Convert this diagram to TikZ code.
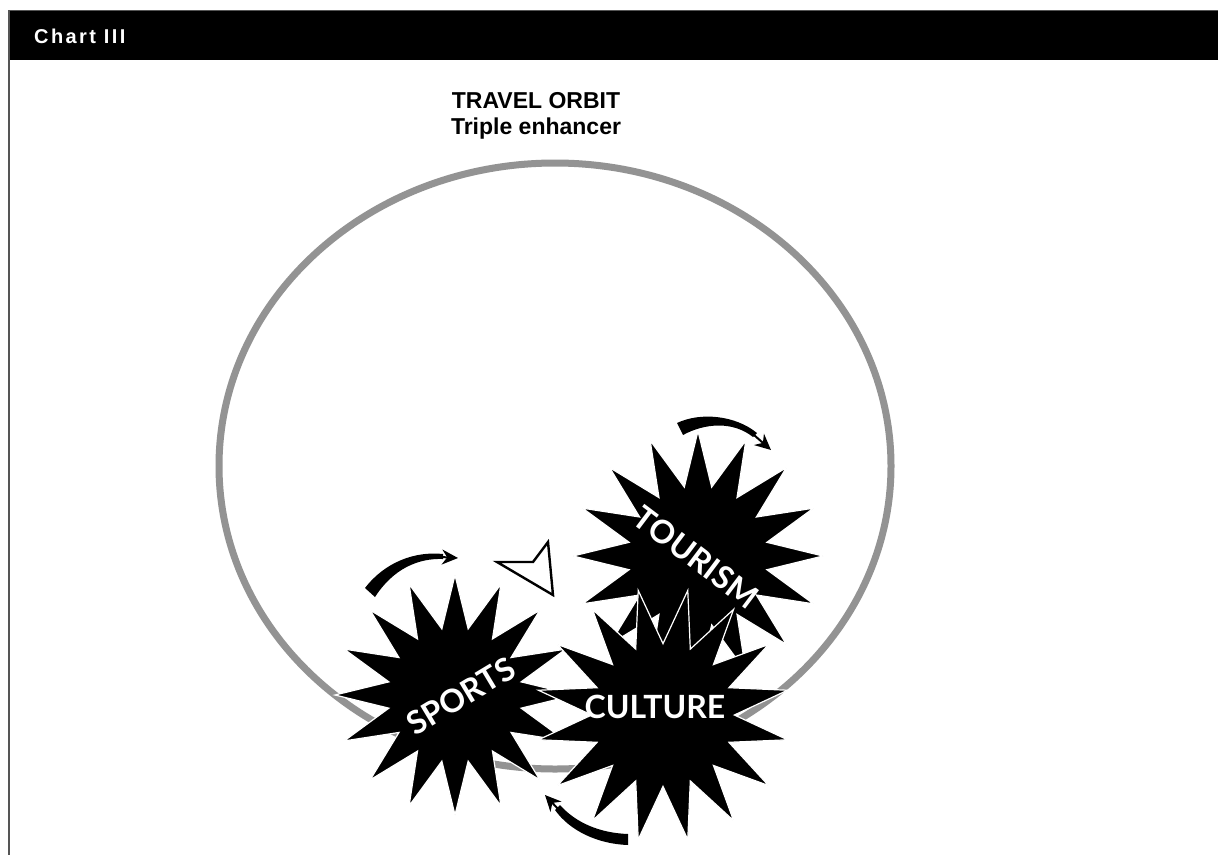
\documentclass[tikz,border=0pt]{standalone}
\usepackage{fontspec}
\setmainfont{Liberation Sans}
\newfontfamily\latofont{Lato}
\newfontfamily\headfont[LetterSpace=12]{Liberation Sans}
\usetikzlibrary{shapes.geometric,arrows.meta}
\begin{document}
\begin{tikzpicture}[x=1pt,y=-1pt,
  burst/.style={star, star points=16, star point ratio=1.78, fill=black, draw=white,
    line width=1.2pt, inner sep=0pt, minimum size=#1},
  burstlabel/.style={text=white, font=\latofont\bfseries\fontsize{32}{32}\selectfont, inner sep=0pt},
  orbit/.style={draw=orbitgray, line width=7pt},
  swoosh/.style={fill=black},
  swooshtip/.style={line width=2pt, -{Stealth[length=16pt,width=15pt]}},
  hollowtip/.style={draw=black, fill=white, line width=2.4pt, line join=miter},
  titletext/.style={font=\bfseries\fontsize{23}{26.5}\selectfont, align=center, inner sep=0pt},
  headtext/.style={font=\headfont\bfseries\fontsize{20}{22}\selectfont, text=white, inner sep=0pt, anchor=west}
]
\definecolor{orbitgray}{HTML}{939393}
\definecolor{framegray}{HTML}{555555}
\useasboundingbox (0,0) rectangle (1218,855);
\fill[white] (0,0) rectangle (1218,855);
% frame and header bar
\fill[black] (8,11) rectangle (1218,60);
\draw[framegray, line width=1.2pt] (8,10.5) -- (1218,10.5);
\draw[framegray, line width=2pt] (9,10) -- (9,855);
\node[headtext] (hdr) at (34,36) {Chart III};
% title
\node[titletext] (title) at (536,116) {TRAVEL ORBIT\\Triple enhancer};
% orbit
\draw[orbit] (555,466) ellipse [x radius=336, y radius=303];
% starbursts
\node[burst=250pt] (tourism) at (698,556) {};
\node[burst=240pt] (sports) at (455,695) {};
\node[burst=254pt, shape border rotate=11.25] (culture) at (663,715) {};
\node[burstlabel, rotate=31] (sportsLbl) at (461,696) {SPORTS};
\node[burstlabel, rotate=-37] (tourismLbl) at (696,557) {TOURISM};
\node[burstlabel] (cultureLbl) at (655,707) {CULTURE};
% hollow arrowhead
\draw[hollowtip] (497,562) -- (533,562) -- (548,542) -- (553,595) -- cycle;
% curved arrows
\coordinate (a1b) at (441,557);
\coordinate (a1t) at (458,558);
\fill[swoosh] (365,588) .. controls (385,562) and (415,551) .. (443,554) -- (443,559)
  .. controls (418,558) and (393,569) .. (375,597) -- cycle;
\draw[swooshtip] (a1b) -- (a1t);
\coordinate (a2b) at (754,435);
\coordinate (a2t) at (771,450);
\fill[swoosh] (677,423) .. controls (700,412) and (735,415) .. (757,433) -- (753,437)
  .. controls (733,421) and (705,423) .. (683,435) -- cycle;
\draw[swooshtip] (a2b) -- (a2t);
\coordinate (a3b) at (559,810);
\coordinate (a3t) at (545,795);
\fill[swoosh] (628,834) .. controls (600,833) and (576,823) .. (560,805) -- (555,810)
  .. controls (570,831) and (598,844) .. (628,845) -- cycle;
\draw[swooshtip] (a3b) -- (a3t);
\end{tikzpicture}
\end{document}
